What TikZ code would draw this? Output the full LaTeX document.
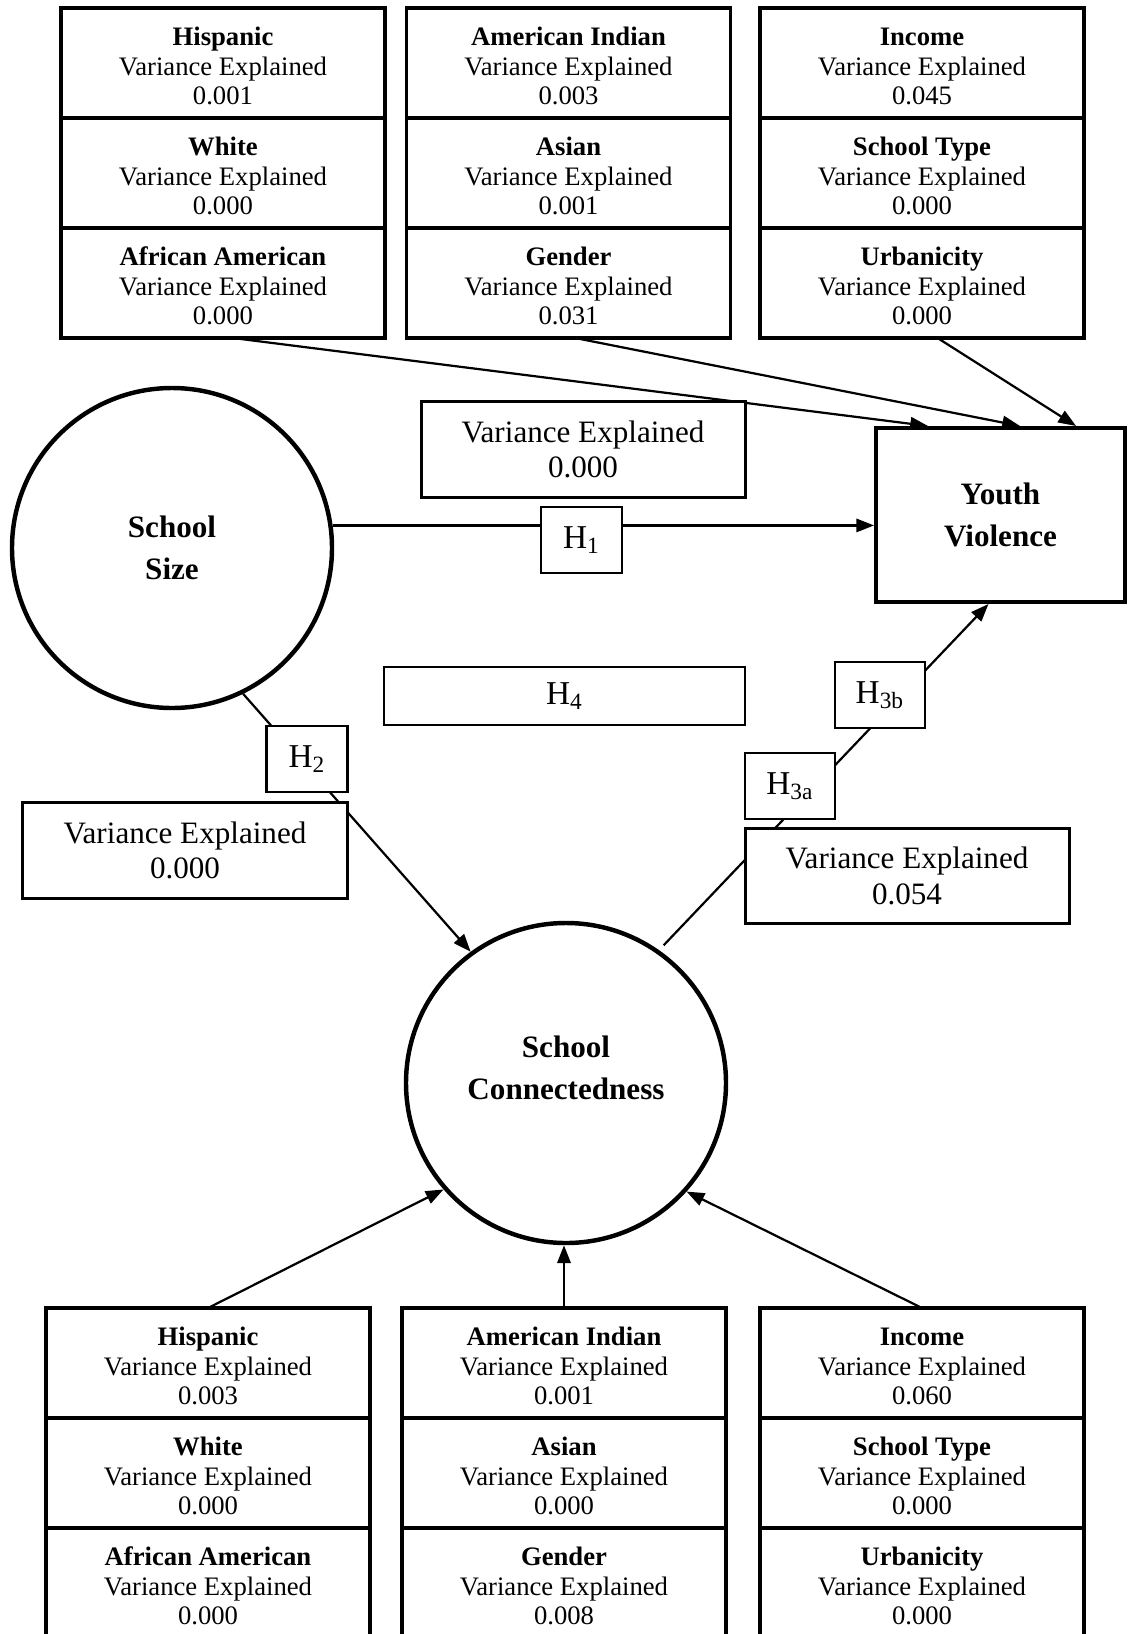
\documentclass[tikz,border=0pt]{standalone}
\usepackage{fontspec}
\setmainfont{Liberation Serif}
\usepackage{tikz}
\usetikzlibrary{arrows.meta, backgrounds}
\tikzstyle{cell} = [rectangle, minimum width=145.8pt, minimum height=49.5pt, align=center, draw=black, line width=1.5pt, outer sep=0pt, fill=white, font=\fontsize{12}{13.4}\selectfont]
\tikzstyle{varbox} = [rectangle, minimum width=145.8pt, minimum height=43pt, align=center, draw=black, line width=1.35pt, fill=white, font=\fontsize{14}{15.9}\selectfont]
\tikzstyle{hbox} = [rectangle, minimum width=36.5pt, minimum height=29.7pt, draw=black, line width=1.2pt, fill=white, font=\fontsize{15}{18}\selectfont]
\tikzstyle{latent} = [circle, minimum size=144pt, draw=black, line width=2pt, align=center, font=\fontsize{14}{19.1}\selectfont\bfseries]
\tikzstyle{outcome} = [rectangle, minimum width=112pt, minimum height=78.3pt, draw=black, line width=1.8pt, align=center, fill=white, font=\fontsize{14}{19.1}\selectfont\bfseries]
\tikzstyle{arrow} = [line width=1pt, -{Triangle[length=8pt,width=6pt]}]
\newcommand{\varexp}[2]{\rule{0pt}{11pt}\textbf{#1}\\Variance Explained\\#2}

\begin{document}
\begin{tikzpicture}[x=0.45pt, y=-0.45pt, node distance=49.5pt]
\useasboundingbox (0,0) rectangle (1128,1634);

% covariates on youth violence
\node (hisp1) [cell] at (223,63) {\varexp{Hispanic}{0.001}};
\node (wh1) [cell, below of=hisp1] {\varexp{White}{0.000}};
\node (afr1) [cell, below of=wh1] {\varexp{African American}{0.000}};
\node (amind1) [cell] at (568.5,63) {\varexp{American Indian}{0.003}};
\node (asian1) [cell, below of=amind1] {\varexp{Asian}{0.001}};
\node (gen1) [cell, below of=asian1] {\varexp{Gender}{0.031}};
\node (inc1) [cell] at (922,63) {\varexp{Income}{0.045}};
\node (stype1) [cell, below of=inc1] {\varexp{School Type}{0.000}};
\node (urb1) [cell, below of=stype1] {\varexp{Urbanicity}{0.000}};

% main model
\node (ss) [latent] at (172,548) {School\\Size};
\node (yv) [outcome] at (1000.5,515) {Youth\\Violence};
\node (sc) [latent, text depth=14pt] at (566,1083) {School\\Connectedness};

\node (var0) [varbox] at (583,449.5) {Variance Explained\\0.000};
\node (var2) [varbox] at (185,850.5) {Variance Explained\\0.000};
\node (var3) [varbox] at (907,876) {Variance Explained\\0.054};

\node (h1) [hbox] at (581.5,540) {H\textsubscript{1}};
\node (h2) [hbox] at (307,759) {H\textsubscript{2}};
\node (h3a) [hbox, minimum width=40.5pt] at (790,786) {H\textsubscript{3a}};
\node (h3b) [hbox, minimum width=40.5pt] at (880,695) {H\textsubscript{3b}};
\node (h4) [hbox, minimum width=162.5pt, minimum height=26.1pt] at (564.5,696) {H\textsubscript{4}};

% covariates on school connectedness
\node (hisp2) [cell] at (208,1363) {\varexp{Hispanic}{0.003}};
\node (wh2) [cell, below of=hisp2] {\varexp{White}{0.000}};
\node (afr2) [cell, below of=wh2] {\varexp{African American}{0.000}};
\node (amind2) [cell] at (564,1363) {\varexp{American Indian}{0.001}};
\node (asian2) [cell, below of=amind2] {\varexp{Asian}{0.000}};
\node (gen2) [cell, below of=asian2] {\varexp{Gender}{0.008}};
\node (inc2) [cell] at (922,1363) {\varexp{Income}{0.060}};
\node (stype2) [cell, below of=inc2] {\varexp{School Type}{0.000}};
\node (urb2) [cell, below of=stype2] {\varexp{Urbanicity}{0.000}};

\begin{pgfonlayer}{background}
\draw [arrow] ([xshift=4.5pt]afr1.south) -- ([xshift=-32.6pt]yv.north);
\draw [arrow] ([xshift=3pt]gen1.south) -- ([xshift=8.8pt]yv.north);
\draw [arrow] ([xshift=7pt]urb1.south) -- ([xshift=34pt]yv.north);
\draw [arrow] (ss.8) -- (ss.8 -| yv.west);
\draw [arrow] (ss.-64) -- (sc.126);
\draw [arrow, shorten <=3pt] (sc.55) -- ([xshift=-5.4pt]yv.south);
\draw [arrow] (hisp2.north) -- (sc.221);
\draw [arrow] (amind2.north) -- (amind2.north |- sc.south);
\draw [arrow] (inc2.north) -- (sc.-42);
\end{pgfonlayer}
\end{tikzpicture}
\end{document}
